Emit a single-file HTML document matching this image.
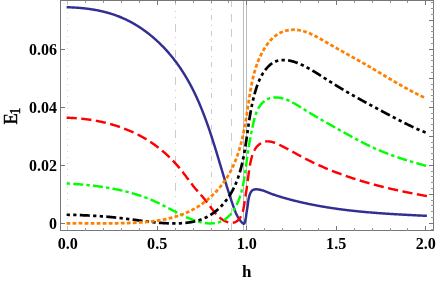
<!DOCTYPE html>
<html><head><meta charset="utf-8"><title>E1 vs h</title>
<style>
html,body{margin:0;padding:0;background:#fff;}
body{width:436px;height:281px;overflow:hidden;}
svg{display:block;}
text{font-family:"Liberation Serif",serif;fill:#000;}
.b{font-weight:bold;font-size:17px;}
</style></head><body>
<svg width="436" height="281" viewBox="0 0 436 281">
<rect width="436" height="281" fill="#fff"/>
<g fill="none" shape-rendering="crispEdges">
<line x1="67.5" y1="0.5" x2="67.5" y2="230.5" stroke="#d6d6d6" stroke-width="1" stroke-dasharray="1 5.05" stroke-dashoffset="0.95"/>
<line x1="175.5" y1="0.5" x2="175.5" y2="230.5" stroke="#cccccc" stroke-width="1" stroke-dasharray="8 5.5 1 5.6 1 5.4" stroke-dashoffset="3.1"/>
<line x1="211.5" y1="0.5" x2="211.5" y2="230.5" stroke="#cccccc" stroke-width="1" stroke-dasharray="5 5.2 1 4.5" stroke-dashoffset="1.3"/>
<line x1="231.5" y1="0.5" x2="231.5" y2="230.5" stroke="#cccccc" stroke-width="1" stroke-dasharray="7.6 7.3" stroke-dashoffset="1.1"/>
<line x1="243.5" y1="0.5" x2="243.5" y2="230.5" stroke="#bcbcbc" stroke-width="1"/>
<line x1="246.5" y1="0.5" x2="246.5" y2="230.5" stroke="#bcbcbc" stroke-width="1"/>
</g>
<g fill="none" stroke-linecap="butt" stroke-linejoin="round">
<path d="M66.63 7.24 L67.29 7.25 L67.95 7.27 L68.61 7.29 L69.27 7.31 L69.93 7.34 L70.59 7.36 L71.25 7.39 L71.91 7.42 L72.58 7.45 L73.24 7.49 L73.90 7.52 L74.57 7.56 L75.23 7.60 L75.90 7.64 L76.56 7.69 L77.23 7.73 L77.89 7.78 L78.56 7.83 L79.22 7.89 L79.89 7.94 L80.55 8.00 L81.22 8.06 L81.88 8.12 L82.55 8.19 L83.21 8.26 L83.88 8.33 L84.54 8.40 L85.21 8.47 L85.87 8.55 L86.54 8.63 L87.20 8.72 L87.87 8.80 L88.53 8.89 L89.20 8.98 L89.86 9.07 L90.52 9.17 L91.18 9.27 L91.85 9.37 L92.51 9.48 L93.17 9.58 L93.83 9.69 L94.49 9.81 L95.15 9.92 L95.81 10.04 L96.47 10.16 L97.13 10.29 L97.78 10.42 L98.44 10.55 L99.10 10.68 L99.75 10.82 L100.41 10.96 L101.06 11.10 L101.71 11.25 L102.37 11.40 L103.02 11.55 L103.67 11.71 L104.32 11.87 L104.96 12.03 L105.61 12.20 L106.26 12.37 L106.90 12.54 L107.55 12.72 L108.19 12.90 L108.83 13.08 L109.47 13.27 L110.11 13.46 L110.75 13.65 L111.39 13.85 L112.03 14.05 L112.66 14.25 L113.29 14.46 L113.93 14.67 L114.56 14.89 L115.19 15.10 L115.81 15.33 L116.44 15.55 L117.07 15.78 L117.69 16.02 L118.31 16.26 L118.93 16.50 L119.55 16.74 L120.17 16.99 L120.78 17.25 L121.40 17.50 L122.01 17.76 L122.62 18.03 L123.23 18.30 L123.84 18.57 L124.44 18.85 L125.05 19.13 L125.65 19.41 L126.25 19.70 L126.85 19.99 L127.45 20.28 L128.04 20.58 L128.64 20.88 L129.23 21.18 L129.82 21.49 L130.41 21.80 L131.00 22.12 L131.58 22.44 L132.17 22.76 L132.75 23.08 L133.33 23.41 L133.91 23.74 L134.49 24.08 L135.06 24.42 L135.63 24.76 L136.20 25.11 L136.77 25.45 L137.34 25.81 L137.91 26.16 L138.47 26.52 L139.03 26.88 L139.59 27.24 L140.15 27.61 L140.71 27.98 L141.26 28.35 L141.82 28.73 L142.37 29.11 L142.92 29.49 L143.47 29.88 L144.01 30.27 L144.55 30.66 L145.10 31.05 L145.63 31.45 L146.17 31.85 L146.71 32.25 L147.24 32.66 L147.77 33.06 L148.30 33.47 L148.83 33.89 L149.36 34.30 L149.88 34.72 L150.40 35.14 L150.92 35.57 L151.44 36.00 L151.96 36.43 L152.47 36.86 L152.98 37.29 L153.49 37.73 L154.00 38.17 L154.51 38.61 L155.01 39.05 L155.51 39.50 L156.01 39.95 L156.51 40.40 L157.00 40.86 L157.50 41.31 L157.99 41.77 L158.48 42.23 L158.96 42.70 L159.45 43.16 L159.93 43.63 L160.41 44.10 L160.89 44.57 L161.36 45.04 L161.84 45.52 L162.31 46.00 L162.78 46.48 L163.25 46.96 L163.71 47.45 L164.17 47.93 L164.63 48.42 L165.09 48.91 L165.55 49.40 L166.00 49.90 L166.45 50.40 L166.90 50.89 L167.35 51.39 L167.80 51.90 L168.24 52.40 L168.68 52.90 L169.12 53.41 L169.55 53.92 L169.99 54.43 L170.42 54.94 L170.85 55.46 L171.27 55.97 L171.70 56.49 L172.12 57.01 L172.54 57.53 L172.96 58.05 L173.37 58.58 L173.78 59.10 L174.19 59.63 L174.60 60.16 L175.01 60.68 L175.41 61.22 L175.81 61.75 L176.21 62.28 L176.60 62.82 L177.00 63.35 L177.39 63.89 L177.77 64.43 L178.16 64.97 L178.54 65.51 L178.93 66.06 L179.31 66.60 L179.68 67.15 L180.06 67.69 L180.43 68.24 L180.80 68.79 L181.17 69.34 L181.53 69.90 L181.90 70.45 L182.26 71.00 L182.62 71.56 L182.98 72.12 L183.33 72.68 L183.68 73.24 L184.04 73.80 L184.38 74.36 L184.73 74.92 L185.08 75.49 L185.42 76.05 L185.76 76.62 L186.10 77.19 L186.43 77.76 L186.77 78.33 L187.10 78.90 L187.43 79.47 L187.76 80.04 L188.09 80.62 L188.41 81.20 L188.74 81.77 L189.06 82.35 L189.38 82.93 L189.69 83.51 L190.01 84.09 L190.32 84.67 L190.63 85.26 L190.95 85.84 L191.25 86.43 L191.56 87.01 L191.86 87.60 L192.17 88.19 L192.47 88.78 L192.77 89.37 L193.07 89.96 L193.36 90.55 L193.66 91.15 L193.95 91.74 L194.24 92.34 L194.53 92.93 L194.82 93.53 L195.10 94.13 L195.39 94.73 L195.67 95.33 L195.95 95.93 L196.23 96.53 L196.51 97.13 L196.79 97.74 L197.06 98.34 L197.34 98.94 L197.61 99.55 L197.88 100.16 L198.15 100.76 L198.42 101.37 L198.68 101.98 L198.95 102.59 L199.21 103.20 L199.47 103.81 L199.74 104.43 L200.00 105.04 L200.25 105.65 L200.51 106.27 L200.77 106.88 L201.02 107.50 L201.27 108.12 L201.52 108.73 L201.77 109.35 L202.02 109.97 L202.27 110.59 L202.52 111.21 L202.76 111.83 L203.01 112.45 L203.25 113.07 L203.49 113.70 L203.73 114.32 L203.97 114.94 L204.21 115.57 L204.45 116.19 L204.68 116.82 L204.92 117.45 L205.15 118.07 L205.39 118.70 L205.62 119.33 L205.85 119.96 L206.08 120.59 L206.31 121.22 L206.54 121.85 L206.76 122.48 L206.99 123.11 L207.21 123.74 L207.44 124.37 L207.66 125.00 L207.88 125.64 L208.10 126.27 L208.33 126.91 L208.54 127.54 L208.76 128.18 L208.98 128.81 L209.20 129.45 L209.41 130.08 L209.63 130.72 L209.85 131.36 L210.06 131.99 L210.27 132.63 L210.48 133.27 L210.70 133.91 L210.91 134.55 L211.12 135.19 L211.33 135.83 L211.54 136.47 L211.74 137.11 L211.95 137.75 L212.16 138.39 L212.37 139.03 L212.57 139.67 L212.78 140.31 L212.98 140.95 L213.18 141.60 L213.39 142.24 L213.59 142.88 L213.79 143.52 L214.00 144.17 L214.20 144.81 L214.40 145.45 L214.60 146.10 L214.80 146.74 L215.00 147.39 L215.20 148.03 L215.40 148.68 L215.59 149.32 L215.79 149.97 L215.99 150.61 L216.19 151.26 L216.38 151.90 L216.58 152.55 L216.78 153.19 L216.97 153.84 L217.17 154.48 L217.36 155.13 L217.56 155.77 L217.75 156.42 L217.95 157.07 L218.14 157.71 L218.34 158.36 L218.53 159.00 L218.73 159.65 L218.92 160.30 L219.11 160.94 L219.31 161.59 L219.50 162.23 L219.69 162.88 L219.89 163.53 L220.08 164.17 L220.27 164.82 L220.47 165.46 L220.66 166.11 L220.85 166.75 L221.05 167.40 L221.24 168.05 L221.43 168.69 L221.62 169.34 L221.82 169.98 L222.01 170.63 L222.20 171.27 L222.40 171.92 L222.59 172.56 L222.78 173.20 L222.98 173.85 L223.17 174.49 L223.37 175.14 L223.56 175.78 L223.75 176.42 L223.95 177.07 L224.14 177.71 L224.34 178.35 L224.53 179.00 L224.73 179.64 L224.92 180.28 L225.12 180.92 L225.32 181.56 L225.51 182.20 L225.71 182.85 L225.91 183.49 L226.10 184.13 L226.30 184.77 L226.50 185.41 L226.70 186.05 L226.90 186.68 L227.10 187.32 L227.30 187.96 L227.50 188.60 L227.70 189.24 L227.90 189.87 L228.10 190.51 L228.31 191.15 L228.51 191.78 L228.71 192.42 L228.92 193.05 L229.12 193.69 L229.33 194.32 L229.53 194.96 L229.74 195.59 L229.95 196.22 L230.15 196.86 L230.36 197.49 L230.57 198.12 L230.78 198.75 L230.99 199.38 L231.20 200.01 L231.41 200.64 L231.62 201.27 L231.84 201.90 L232.05 202.52 L232.27 203.15 L232.48 203.78 L232.70 204.40 L232.92 205.03 L233.13 205.65 L233.35 206.28 L233.57 206.90 L233.79 207.52 L234.01 208.15 L234.24 208.77 L234.46 209.39 L234.69 210.00 L234.93 210.62 L235.16 211.23 L235.41 211.84 L235.65 212.44 L235.91 213.05 L236.17 213.64 L236.44 214.24 L236.71 214.82 L237.00 215.41 L237.30 215.98 L237.60 216.55 L237.92 217.12 L238.25 217.68 L238.58 218.23 L238.94 218.77 L239.30 219.30 L239.68 219.83 L240.08 220.35 L240.48 220.85 L240.91 221.35 L241.35 221.84 L241.81 222.32 L242.29 222.79 L242.78 223.24 L243.27 223.60 L243.75 223.76 L244.18 223.61 L244.56 223.10 L244.87 222.30 L245.14 221.38 L245.36 220.46 L245.55 219.62 L245.71 218.85 L245.84 218.13 L245.95 217.47 L246.03 216.84 L246.11 216.24 L246.18 215.65 L246.24 215.08 L246.31 214.51 L246.38 213.93 L246.46 213.33 L246.55 212.71 L246.65 212.08 L246.75 211.44 L246.86 210.78 L246.97 210.11 L247.08 209.44 L247.20 208.76 L247.31 208.08 L247.42 207.39 L247.52 206.71 L247.62 206.03 L247.72 205.36 L247.81 204.69 L247.89 204.02 L247.97 203.36 L248.05 202.70 L248.14 202.04 L248.22 201.39 L248.32 200.74 L248.41 200.09 L248.52 199.44 L248.64 198.79 L248.76 198.14 L248.90 197.49 L249.06 196.84 L249.23 196.19 L249.43 195.54 L249.64 194.89 L249.87 194.24 L250.13 193.59 L250.42 192.96 L250.74 192.35 L251.09 191.77 L251.48 191.24 L251.91 190.76 L252.39 190.34 L252.91 189.99 L253.49 189.72 L254.10 189.53 L254.76 189.41 L255.44 189.34 L256.13 189.32 L256.83 189.34 L257.52 189.39 L258.20 189.46 L258.87 189.55 L259.54 189.67 L260.20 189.80 L260.85 189.95 L261.50 190.12 L262.14 190.30 L262.77 190.50 L263.41 190.71 L264.04 190.92 L264.66 191.15 L265.29 191.39 L265.91 191.63 L266.53 191.87 L267.15 192.12 L267.77 192.37 L268.39 192.62 L269.01 192.86 L269.63 193.11 L270.25 193.35 L270.87 193.58 L271.50 193.82 L272.13 194.05 L272.75 194.28 L273.38 194.50 L274.01 194.72 L274.64 194.94 L275.27 195.16 L275.91 195.37 L276.54 195.58 L277.18 195.79 L277.81 195.99 L278.45 196.20 L279.09 196.40 L279.72 196.60 L280.36 196.79 L281.00 196.99 L281.64 197.18 L282.28 197.37 L282.92 197.56 L283.57 197.75 L284.21 197.93 L284.85 198.12 L285.49 198.30 L286.14 198.48 L286.78 198.66 L287.43 198.84 L288.07 199.01 L288.71 199.19 L289.36 199.36 L290.00 199.53 L290.65 199.70 L291.30 199.87 L291.94 200.04 L292.59 200.21 L293.24 200.37 L293.88 200.54 L294.53 200.70 L295.18 200.86 L295.82 201.02 L296.47 201.18 L297.12 201.34 L297.77 201.50 L298.42 201.65 L299.07 201.81 L299.72 201.96 L300.37 202.11 L301.02 202.26 L301.67 202.41 L302.32 202.56 L302.97 202.71 L303.62 202.85 L304.27 203.00 L304.92 203.14 L305.57 203.28 L306.22 203.42 L306.88 203.56 L307.53 203.70 L308.18 203.84 L308.83 203.97 L309.49 204.11 L310.14 204.24 L310.79 204.38 L311.45 204.51 L312.10 204.64 L312.75 204.77 L313.41 204.90 L314.06 205.02 L314.72 205.15 L315.37 205.27 L316.03 205.40 L316.68 205.52 L317.34 205.64 L318.00 205.76 L318.65 205.88 L319.31 206.00 L319.96 206.12 L320.62 206.23 L321.28 206.35 L321.93 206.46 L322.59 206.58 L323.25 206.69 L323.91 206.80 L324.56 206.91 L325.22 207.02 L325.88 207.13 L326.54 207.24 L327.20 207.34 L327.86 207.45 L328.51 207.55 L329.17 207.66 L329.83 207.76 L330.49 207.86 L331.15 207.96 L331.81 208.06 L332.47 208.16 L333.13 208.26 L333.79 208.35 L334.45 208.45 L335.11 208.55 L335.77 208.64 L336.43 208.73 L337.09 208.83 L337.76 208.92 L338.42 209.01 L339.08 209.10 L339.74 209.19 L340.40 209.27 L341.06 209.36 L341.73 209.45 L342.39 209.53 L343.05 209.62 L343.71 209.70 L344.37 209.79 L345.04 209.87 L345.70 209.95 L346.36 210.03 L347.03 210.11 L347.69 210.19 L348.35 210.27 L349.02 210.35 L349.68 210.42 L350.34 210.50 L351.01 210.57 L351.67 210.65 L352.33 210.72 L353.00 210.79 L353.66 210.87 L354.33 210.94 L354.99 211.01 L355.66 211.08 L356.32 211.15 L356.98 211.22 L357.65 211.29 L358.31 211.35 L358.98 211.42 L359.64 211.49 L360.31 211.55 L360.97 211.62 L361.64 211.68 L362.31 211.75 L362.97 211.81 L363.64 211.87 L364.30 211.93 L364.97 211.99 L365.63 212.05 L366.30 212.11 L366.96 212.17 L367.63 212.23 L368.30 212.29 L368.96 212.35 L369.63 212.40 L370.29 212.46 L370.96 212.52 L371.63 212.57 L372.29 212.63 L372.96 212.68 L373.63 212.73 L374.29 212.79 L374.96 212.84 L375.63 212.89 L376.29 212.94 L376.96 212.99 L377.63 213.05 L378.29 213.10 L378.96 213.14 L379.63 213.19 L380.29 213.24 L380.96 213.29 L381.63 213.34 L382.29 213.39 L382.96 213.43 L383.63 213.48 L384.29 213.52 L384.96 213.57 L385.63 213.62 L386.29 213.66 L386.96 213.70 L387.63 213.75 L388.30 213.79 L388.96 213.83 L389.63 213.88 L390.30 213.92 L390.96 213.96 L391.63 214.00 L392.30 214.04 L392.96 214.09 L393.63 214.13 L394.30 214.17 L394.97 214.21 L395.63 214.25 L396.30 214.28 L396.97 214.32 L397.63 214.36 L398.30 214.40 L398.97 214.44 L399.63 214.48 L400.30 214.51 L400.97 214.55 L401.63 214.59 L402.30 214.62 L402.97 214.66 L403.63 214.70 L404.30 214.73 L404.97 214.77 L405.63 214.80 L406.30 214.84 L406.97 214.87 L407.63 214.91 L408.30 214.94 L408.96 214.98 L409.63 215.01 L410.30 215.05 L410.96 215.08 L411.63 215.11 L412.30 215.15 L412.96 215.18 L413.63 215.21 L414.29 215.25 L414.96 215.28 L415.62 215.31 L416.29 215.35 L416.96 215.38 L417.62 215.41 L418.29 215.44 L418.95 215.48 L419.62 215.51 L420.28 215.54 L420.95 215.57 L421.61 215.60 L422.28 215.63 L422.94 215.67 L423.61 215.70 L424.27 215.73 L424.93 215.76 L425.60 215.79 L426.26 215.82 L426.93 215.86" stroke="#322f92" stroke-width="2.45"/>
<path d="M66.60 117.74 L67.27 117.76 L67.93 117.78 L68.60 117.80 L69.26 117.82 L69.93 117.85 L70.59 117.88 L71.26 117.91 L71.92 117.94 L72.59 117.98 L73.26 118.02 L73.92 118.06 L74.59 118.10 L75.25 118.15 L75.92 118.19 L76.58 118.24 L77.25 118.29 L77.92 118.35 L78.58 118.40 L79.25 118.46 L79.91 118.53 L80.58 118.59 L81.24 118.65 L81.91 118.72 L82.58 118.79 L83.24 118.87 L83.91 118.94 L84.57 119.02 L85.23 119.10 L85.90 119.18 L86.56 119.27 L87.23 119.36 L87.89 119.45 L88.55 119.54 L89.22 119.63 L89.88 119.73 L90.54 119.83 L91.20 119.93 L91.87 120.04 L92.53 120.14 L93.19 120.25 L93.85 120.37 L94.51 120.48 L95.17 120.60 L95.83 120.72 L96.49 120.84 L97.15 120.96 L97.80 121.09 L98.46 121.22 L99.12 121.35 L99.77 121.49 L100.43 121.62 L101.08 121.76 L101.74 121.91 L102.39 122.05 L103.05 122.20 L103.70 122.35 L104.35 122.50 L105.00 122.66 L105.65 122.81 L106.30 122.97 L106.95 123.14 L107.60 123.30 L108.25 123.47 L108.90 123.64 L109.54 123.82 L110.19 123.99 L110.83 124.17 L111.48 124.35 L112.12 124.54 L112.76 124.73 L113.40 124.91 L114.04 125.11 L114.68 125.30 L115.32 125.50 L115.96 125.70 L116.60 125.90 L117.23 126.11 L117.87 126.32 L118.50 126.53 L119.13 126.74 L119.76 126.96 L120.40 127.18 L121.02 127.40 L121.65 127.63 L122.28 127.86 L122.91 128.09 L123.53 128.32 L124.16 128.56 L124.78 128.80 L125.40 129.04 L126.02 129.28 L126.64 129.53 L127.26 129.78 L127.88 130.03 L128.49 130.29 L129.11 130.55 L129.72 130.81 L130.33 131.07 L130.94 131.34 L131.55 131.61 L132.16 131.89 L132.77 132.16 L133.37 132.44 L133.97 132.72 L134.58 133.01 L135.18 133.30 L135.78 133.59 L136.37 133.88 L136.97 134.18 L137.57 134.48 L138.16 134.78 L138.75 135.08 L139.34 135.39 L139.93 135.70 L140.52 136.02 L141.10 136.33 L141.69 136.66 L142.27 136.98 L142.85 137.30 L143.43 137.63 L144.01 137.97 L144.59 138.30 L145.16 138.64 L145.73 138.98 L146.30 139.33 L146.87 139.67 L147.44 140.02 L148.01 140.38 L148.57 140.73 L149.13 141.09 L149.69 141.46 L150.25 141.82 L150.81 142.19 L151.36 142.56 L151.92 142.94 L152.47 143.31 L153.02 143.69 L153.56 144.08 L154.11 144.46 L154.65 144.85 L155.20 145.24 L155.74 145.64 L156.27 146.03 L156.81 146.43 L157.34 146.84 L157.88 147.24 L158.41 147.65 L158.93 148.06 L159.46 148.47 L159.98 148.89 L160.51 149.31 L161.03 149.73 L161.54 150.16 L162.06 150.58 L162.57 151.01 L163.09 151.45 L163.60 151.88 L164.10 152.32 L164.61 152.76 L165.11 153.20 L165.61 153.65 L166.11 154.10 L166.61 154.55 L167.10 155.00 L167.60 155.45 L168.09 155.91 L168.57 156.37 L169.06 156.84 L169.54 157.30 L170.02 157.77 L170.50 158.24 L170.98 158.71 L171.45 159.19 L171.93 159.66 L172.40 160.14 L172.86 160.63 L173.33 161.11 L173.79 161.60 L174.25 162.09 L174.71 162.58 L175.16 163.07 L175.62 163.57 L176.07 164.07 L176.52 164.57 L176.96 165.07 L177.41 165.57 L177.85 166.08 L178.29 166.59 L178.72 167.10 L179.16 167.62 L179.59 168.13 L180.01 168.65 L180.44 169.17 L180.86 169.69 L181.29 170.22 L181.70 170.74 L182.12 171.27 L182.53 171.80 L182.94 172.33 L183.35 172.87 L183.76 173.40 L184.17 173.94 L184.57 174.47 L184.98 175.01 L185.38 175.55 L185.78 176.08 L186.18 176.62 L186.58 177.16 L186.98 177.70 L187.37 178.24 L187.77 178.77 L188.17 179.31 L188.57 179.85 L188.96 180.38 L189.36 180.91 L189.76 181.45 L190.16 181.98 L190.56 182.51 L190.96 183.03 L191.36 183.56 L191.76 184.08 L192.17 184.60 L192.57 185.12 L192.98 185.64 L193.39 186.15 L193.80 186.66 L194.21 187.17 L194.63 187.67 L195.04 188.17 L195.46 188.67 L195.88 189.17 L196.30 189.66 L196.73 190.15 L197.15 190.64 L197.58 191.13 L198.01 191.62 L198.43 192.11 L198.86 192.60 L199.29 193.09 L199.72 193.58 L200.15 194.07 L200.58 194.56 L201.02 195.05 L201.45 195.54 L201.88 196.04 L202.31 196.54 L202.74 197.04 L203.17 197.54 L203.60 198.05 L204.03 198.56 L204.46 199.07 L204.88 199.59 L205.31 200.11 L205.73 200.64 L206.16 201.17 L206.58 201.71 L207.00 202.25 L207.42 202.80 L207.83 203.35 L208.25 203.90 L208.67 204.46 L209.09 205.02 L209.50 205.59 L209.92 206.15 L210.34 206.71 L210.76 207.28 L211.18 207.84 L211.60 208.40 L212.02 208.96 L212.45 209.52 L212.88 210.08 L213.31 210.63 L213.74 211.17 L214.18 211.72 L214.62 212.25 L215.06 212.78 L215.51 213.31 L215.97 213.82 L216.42 214.33 L216.89 214.83 L217.36 215.32 L217.83 215.80 L218.31 216.27 L218.80 216.73 L219.29 217.18 L219.79 217.61 L220.30 218.04 L220.81 218.45 L221.33 218.84 L221.86 219.22 L222.40 219.59 L222.95 219.94 L223.50 220.27 L224.07 220.59 L224.64 220.88 L225.22 221.16 L225.82 221.43 L226.42 221.67 L227.03 221.89 L227.66 222.09 L228.29 222.27 L228.93 222.42 L229.58 222.54 L230.22 222.64 L230.87 222.70 L231.52 222.73" stroke="#ff0000" stroke-width="2.45" stroke-dasharray="10.2 4.5"/>
<path d="M231.52 222.73 L232.16 222.73 L232.79 222.68 L233.42 222.60 L234.04 222.47 L234.64 222.30 L235.24 222.07 L235.81 221.81 L236.37 221.49 L236.90 221.13 L237.42 220.72 L237.92 220.29 L238.39 219.82 L238.85 219.33 L239.28 218.81 L239.68 218.28 L240.06 217.73 L240.42 217.17 L240.75 216.60 L241.07 216.01 L241.36 215.41 L241.63 214.80 L241.89 214.18 L242.13 213.56 L242.35 212.92 L242.55 212.27 L242.75 211.62 L242.93 210.96 L243.09 210.30 L243.25 209.63 L243.40 208.96 L243.53 208.28 L243.66 207.60 L243.79 206.91 L243.90 206.23 L244.01 205.54 L244.12 204.86 L244.23 204.17 L244.33 203.49 L244.43 202.81 L244.54 202.13 L244.64 201.45 L244.74 200.78 L244.85 200.11 L244.95 199.44 L245.06 198.78 L245.16 198.11 L245.27 197.45 L245.38 196.79 L245.48 196.13 L245.59 195.48 L245.69 194.82 L245.80 194.17 L245.90 193.52 L246.01 192.87 L246.11 192.22 L246.22 191.57 L246.32 190.92 L246.42 190.27 L246.52 189.62 L246.62 188.97 L246.72 188.33 L246.81 187.68 L246.91 187.03 L247.00 186.38 L247.09 185.73 L247.18 185.08 L247.27 184.43 L247.36 183.77 L247.45 183.12 L247.53 182.47 L247.61 181.81 L247.70 181.15 L247.78 180.50 L247.86 179.84 L247.94 179.18 L248.02 178.52 L248.11 177.86 L248.19 177.21 L248.27 176.55 L248.35 175.88 L248.44 175.22 L248.52 174.56 L248.61 173.90 L248.70 173.24 L248.79 172.58 L248.88 171.91 L248.97 171.25 L249.07 170.59 L249.16 169.92 L249.26 169.26 L249.37 168.60 L249.47 167.93 L249.58 167.27 L249.70 166.60 L249.81 165.94 L249.93 165.28 L250.05 164.61 L250.18 163.95 L250.31 163.29 L250.45 162.62 L250.59 161.96 L250.74 161.30 L250.89 160.64 L251.05 159.97 L251.21 159.31 L251.38 158.65 L251.55 157.99 L251.73 157.33 L251.92 156.68 L252.11 156.02 L252.32 155.38 L252.53 154.73 L252.76 154.09 L252.99 153.46 L253.24 152.83 L253.50 152.21 L253.78 151.60 L254.06 150.99 L254.37 150.40 L254.69 149.82" stroke="#ff0000" stroke-width="2.45" stroke-dasharray="10.8169 4.7722" stroke-dashoffset="14.2935"/>
<path d="M426.89 196.07 L426.24 195.95 L425.59 195.84 L424.94 195.72 L424.28 195.61 L423.63 195.49 L422.98 195.37 L422.32 195.25 L421.67 195.14 L421.02 195.02 L420.36 194.90 L419.71 194.78 L419.06 194.66 L418.40 194.53 L417.75 194.41 L417.10 194.29 L416.44 194.17 L415.79 194.04 L415.13 193.92 L414.48 193.79 L413.83 193.67 L413.17 193.54 L412.52 193.41 L411.86 193.28 L411.21 193.16 L410.56 193.03 L409.90 192.90 L409.25 192.77 L408.59 192.64 L407.94 192.50 L407.28 192.37 L406.63 192.24 L405.98 192.10 L405.32 191.97 L404.67 191.83 L404.01 191.70 L403.36 191.56 L402.71 191.42 L402.05 191.28 L401.40 191.15 L400.75 191.01 L400.09 190.87 L399.44 190.72 L398.79 190.58 L398.13 190.44 L397.48 190.30 L396.83 190.15 L396.17 190.01 L395.52 189.86 L394.87 189.71 L394.21 189.57 L393.56 189.42 L392.91 189.27 L392.26 189.12 L391.60 188.97 L390.95 188.82 L390.30 188.67 L389.65 188.51 L389.00 188.36 L388.34 188.20 L387.69 188.05 L387.04 187.89 L386.39 187.74 L385.74 187.58 L385.09 187.42 L384.44 187.26 L383.79 187.10 L383.14 186.94 L382.49 186.78 L381.84 186.61 L381.19 186.45 L380.54 186.28 L379.89 186.12 L379.24 185.95 L378.59 185.78 L377.94 185.61 L377.29 185.45 L376.65 185.28 L376.00 185.10 L375.35 184.93 L374.70 184.76 L374.06 184.58 L373.41 184.41 L372.76 184.23 L372.12 184.06 L371.47 183.88 L370.83 183.70 L370.18 183.52 L369.53 183.34 L368.89 183.16 L368.24 182.98 L367.60 182.79 L366.96 182.61 L366.31 182.42 L365.67 182.24 L365.03 182.05 L364.38 181.86 L363.74 181.67 L363.10 181.48 L362.46 181.29 L361.82 181.10 L361.17 180.90 L360.53 180.71 L359.89 180.51 L359.25 180.32 L358.61 180.12 L357.97 179.92 L357.34 179.72 L356.70 179.52 L356.06 179.32 L355.42 179.12 L354.78 178.91 L354.15 178.71 L353.51 178.50 L352.87 178.29 L352.24 178.09 L351.60 177.88 L350.97 177.67 L350.33 177.45 L349.70 177.24 L349.07 177.03 L348.43 176.81 L347.80 176.60 L347.17 176.38 L346.54 176.16 L345.90 175.94 L345.27 175.72 L344.64 175.50 L344.01 175.28 L343.38 175.05 L342.75 174.83 L342.13 174.60 L341.50 174.37 L340.87 174.15 L340.24 173.92 L339.62 173.69 L338.99 173.45 L338.37 173.22 L337.74 172.99 L337.12 172.75 L336.49 172.51 L335.87 172.27 L335.25 172.04 L334.62 171.80 L334.00 171.55 L333.38 171.31 L332.76 171.07 L332.14 170.82 L331.52 170.57 L330.90 170.33 L330.28 170.08 L329.67 169.83 L329.05 169.57 L328.43 169.32 L327.82 169.07 L327.20 168.81 L326.58 168.56 L325.97 168.30 L325.36 168.04 L324.74 167.78 L324.13 167.52 L323.52 167.25 L322.91 166.99 L322.30 166.72 L321.69 166.45 L321.08 166.19 L320.47 165.92 L319.86 165.65 L319.26 165.37 L318.65 165.10 L318.04 164.82 L317.44 164.55 L316.83 164.27 L316.23 163.99 L315.63 163.71 L315.02 163.43 L314.42 163.14 L313.82 162.86 L313.22 162.57 L312.62 162.29 L312.02 162.00 L311.42 161.71 L310.83 161.42 L310.23 161.12 L309.63 160.83 L309.04 160.53 L308.44 160.24 L307.85 159.94 L307.26 159.64 L306.66 159.34 L306.07 159.03 L305.48 158.73 L304.89 158.42 L304.30 158.11 L303.71 157.81 L303.13 157.50 L302.54 157.18 L301.95 156.87 L301.37 156.56 L300.78 156.24 L300.20 155.92 L299.61 155.61 L299.03 155.29 L298.45 154.97 L297.86 154.65 L297.28 154.33 L296.69 154.01 L296.11 153.68 L295.53 153.36 L294.94 153.04 L294.36 152.72 L293.77 152.39 L293.19 152.07 L292.60 151.75 L292.02 151.43 L291.43 151.10 L290.84 150.78 L290.25 150.46 L289.66 150.14 L289.07 149.82 L288.48 149.50 L287.89 149.18 L287.29 148.86 L286.69 148.54 L286.10 148.23 L285.50 147.91 L284.90 147.60 L284.29 147.29 L283.69 146.97 L283.08 146.67 L282.48 146.36 L281.87 146.05 L281.25 145.75 L280.64 145.44 L280.02 145.14 L279.40 144.84 L278.78 144.55 L278.16 144.26 L277.53 143.97 L276.90 143.69 L276.28 143.43 L275.65 143.17 L275.01 142.92 L274.38 142.68 L273.75 142.46 L273.11 142.26 L272.48 142.07 L271.84 141.90 L271.20 141.76 L270.57 141.63 L269.93 141.52 L269.29 141.44 L268.66 141.39 L268.02 141.36 L267.39 141.36 L266.75 141.39 L266.12 141.45 L265.48 141.55 L264.85 141.67 L264.22 141.84 L263.59 142.03 L262.97 142.27 L262.35 142.53 L261.74 142.83 L261.14 143.16 L260.55 143.51 L259.98 143.89 L259.42 144.29 L258.89 144.71 L258.37 145.15 L257.88 145.61 L257.41 146.08 L256.97 146.57 L256.54 147.08 L256.13 147.60 L255.74 148.14 L255.37 148.68 L255.02 149.24 L254.69 149.82" stroke="#ff0000" stroke-width="2.45" stroke-dasharray="10.2 4.5"/>
<path d="M66.63 183.46 L67.28 183.50 L67.94 183.54 L68.60 183.58 L69.26 183.62 L69.92 183.66 L70.58 183.70 L71.24 183.74 L71.90 183.78 L72.57 183.83 L73.23 183.87 L73.89 183.92 L74.55 183.96 L75.22 184.01 L75.88 184.06 L76.54 184.11 L77.20 184.16 L77.87 184.21 L78.53 184.26 L79.20 184.32 L79.86 184.37 L80.53 184.43 L81.19 184.48 L81.85 184.54 L82.52 184.60 L83.18 184.66 L83.85 184.72 L84.52 184.78 L85.18 184.84 L85.85 184.91 L86.51 184.97 L87.18 185.04 L87.84 185.10 L88.51 185.17 L89.18 185.24 L89.84 185.31 L90.51 185.39 L91.17 185.46 L91.84 185.53 L92.50 185.61 L93.17 185.69 L93.84 185.77 L94.50 185.85 L95.17 185.93 L95.83 186.01 L96.50 186.10 L97.16 186.18 L97.83 186.27 L98.49 186.36 L99.16 186.45 L99.82 186.54 L100.49 186.63 L101.15 186.73 L101.82 186.82 L102.48 186.92 L103.14 187.02 L103.81 187.12 L104.47 187.22 L105.13 187.33 L105.80 187.43 L106.46 187.54 L107.12 187.65 L107.78 187.76 L108.45 187.87 L109.11 187.98 L109.77 188.10 L110.43 188.21 L111.09 188.33 L111.75 188.45 L112.41 188.57 L113.07 188.70 L113.73 188.82 L114.39 188.95 L115.04 189.08 L115.70 189.21 L116.36 189.35 L117.01 189.48 L117.67 189.62 L118.33 189.75 L118.98 189.90 L119.64 190.04 L120.29 190.18 L120.94 190.33 L121.60 190.48 L122.25 190.63 L122.90 190.78 L123.55 190.93 L124.20 191.09 L124.85 191.25 L125.50 191.41 L126.15 191.57 L126.80 191.73 L127.45 191.90 L128.09 192.07 L128.74 192.24 L129.38 192.41 L130.03 192.59 L130.67 192.76 L131.32 192.94 L131.96 193.13 L132.60 193.31 L133.24 193.50 L133.88 193.68 L134.52 193.87 L135.16 194.07 L135.80 194.26 L136.44 194.46 L137.07 194.66 L137.71 194.86 L138.34 195.07 L138.98 195.27 L139.61 195.48 L140.24 195.69 L140.87 195.91 L141.50 196.12 L142.13 196.34 L142.76 196.56 L143.39 196.79 L144.01 197.01 L144.64 197.24 L145.26 197.47 L145.89 197.71 L146.51 197.94 L147.13 198.18 L147.75 198.42 L148.37 198.67 L148.99 198.91 L149.61 199.16 L150.22 199.41 L150.84 199.67 L151.45 199.93 L152.06 200.19 L152.68 200.45 L153.29 200.71 L153.90 200.98 L154.50 201.25 L155.11 201.53 L155.72 201.80 L156.32 202.08 L156.93 202.36 L157.53 202.65 L158.13 202.93 L158.73 203.22 L159.33 203.51 L159.93 203.80 L160.53 204.10 L161.13 204.39 L161.72 204.69 L162.32 204.99 L162.91 205.29 L163.51 205.59 L164.10 205.90 L164.70 206.20 L165.29 206.51 L165.89 206.81 L166.48 207.12 L167.07 207.43 L167.66 207.74 L168.26 208.05 L168.85 208.36 L169.44 208.67 L170.03 208.98 L170.63 209.29 L171.22 209.60 L171.81 209.91 L172.40 210.22 L173.00 210.53 L173.59 210.84 L174.18 211.15 L174.78 211.45 L175.37 211.76 L175.97 212.07 L176.56 212.37 L177.16 212.68 L177.76 212.98 L178.35 213.28 L178.95 213.59 L179.55 213.88 L180.15 214.18 L180.75 214.48 L181.35 214.77 L181.95 215.06 L182.56 215.35 L183.16 215.64 L183.77 215.93 L184.37 216.21 L184.98 216.49 L185.59 216.77 L186.20 217.05 L186.81 217.32 L187.43 217.59 L188.04 217.86 L188.66 218.12 L189.28 218.38 L189.90 218.64 L190.52 218.90 L191.14 219.15 L191.76 219.39 L192.39 219.63 L193.02 219.87 L193.65 220.10 L194.28 220.33 L194.91 220.55 L195.54 220.76 L196.18 220.97 L196.81 221.18 L197.45 221.37 L198.09 221.56 L198.73 221.74 L199.38 221.91 L200.02 222.08 L200.67 222.24 L201.32 222.39 L201.97 222.53 L202.62 222.66 L203.27 222.78 L203.93 222.89 L204.59 222.99 L205.24 223.09 L205.91 223.17 L206.57 223.24 L207.23 223.30 L207.90 223.35 L208.56 223.38 L209.23 223.41 L209.90 223.42 L210.57 223.42 L211.25 223.41 L211.92 223.38 L212.60 223.34 L213.27 223.29 L213.95 223.22 L214.62 223.14 L215.29 223.04 L215.96 222.93 L216.63 222.80 L217.29 222.66 L217.94 222.50 L218.59 222.32 L219.23 222.13 L219.87 221.92 L220.49 221.69 L221.11 221.44 L221.72 221.17 L222.32 220.89 L222.91 220.58 L223.49 220.26 L224.06 219.92 L224.62 219.57 L225.17 219.20 L225.70 218.81 L226.23 218.41 L226.75 218.00 L227.27 217.57 L227.77 217.13 L228.26 216.68 L228.74 216.21 L229.21 215.73 L229.67 215.25 L230.13 214.75 L230.57 214.24 L231.01 213.73 L231.43 213.21 L231.85 212.67 L232.26 212.14 L232.65 211.59 L233.04 211.04 L233.42 210.48 L233.79 209.92 L234.15 209.35 L234.50 208.78 L234.85 208.21 L235.18 207.63 L235.51 207.05 L235.83 206.46 L236.14 205.87 L236.44 205.28 L236.74 204.68 L237.03 204.08 L237.31 203.48 L237.58 202.87 L237.85 202.26 L238.10 201.65 L238.36 201.04 L238.60 200.42 L238.84 199.80 L239.08 199.18 L239.31 198.55 L239.53 197.92 L239.74 197.29 L239.96 196.66 L240.16 196.03 L240.36 195.39 L240.56 194.76 L240.75 194.12 L240.94 193.48 L241.12 192.84 L241.30 192.19 L241.47 191.55 L241.64 190.90 L241.81 190.26 L241.97 189.61 L242.13 188.96 L242.29 188.31 L242.44 187.66 L242.59 187.01 L242.73 186.36 L242.88 185.70 L243.02 185.05 L243.15 184.40 L243.29 183.74 L243.42 183.08 L243.55 182.43 L243.67 181.77 L243.79 181.11 L243.91 180.45 L244.03 179.79 L244.15 179.13 L244.26 178.47 L244.37 177.81 L244.48 177.15 L244.59 176.49 L244.69 175.83 L244.80 175.16 L244.90 174.50 L245.00 173.84 L245.10 173.17 L245.20 172.51 L245.29 171.85 L245.39 171.18 L245.48 170.52 L245.57 169.85 L245.66 169.19 L245.75 168.52 L245.84 167.86 L245.93 167.19 L246.02 166.53 L246.10 165.86 L246.19 165.20 L246.28 164.53 L246.36 163.87 L246.45 163.20 L246.53 162.54 L246.62 161.88 L246.71 161.21 L246.79 160.55 L246.88 159.88 L246.96 159.22 L247.05 158.56 L247.13 157.90 L247.22 157.23 L247.31 156.57 L247.40 155.91 L247.49 155.25 L247.58 154.59 L247.67 153.93 L247.76 153.27 L247.85 152.61 L247.95 151.96 L248.04 151.30 L248.14 150.64 L248.24 149.99 L248.33 149.33 L248.44 148.68 L248.54 148.02 L248.64 147.37 L248.75 146.72 L248.85 146.07 L248.96 145.42 L249.07 144.76 L249.18 144.11 L249.30 143.46 L249.41 142.81 L249.52 142.16 L249.64 141.51 L249.76 140.86 L249.88 140.21 L250.00 139.56 L250.12 138.91 L250.24 138.26 L250.37 137.61 L250.49 136.96 L250.62 136.31 L250.75 135.66 L250.87 135.01 L251.01 134.35 L251.14 133.70 L251.27 133.05 L251.40 132.39 L251.54 131.74 L251.67 131.08 L251.81 130.43 L251.95 129.77 L252.09 129.11 L252.23 128.46 L252.37 127.80 L252.51 127.14 L252.65 126.47 L252.80 125.81 L252.94 125.15 L253.09 124.48 L253.24 123.82 L253.39 123.15 L253.54 122.48 L253.69 121.82 L253.85 121.15 L254.01 120.48 L254.17 119.82 L254.34 119.16 L254.52 118.50 L254.70 117.84 L254.88 117.18 L255.07 116.53 L255.27 115.88 L255.47 115.24 L255.69 114.59 L255.91 113.96 L256.13 113.32 L256.37 112.70 L256.62 112.07 L256.87 111.46 L257.14 110.85 L257.41 110.24 L257.70 109.65 L258.00 109.06 L258.31 108.48 L258.63 107.90 L258.96 107.34 L259.31 106.78 L259.67 106.23 L260.05 105.69 L260.44 105.16 L260.84 104.64 L261.26 104.14 L261.69 103.64 L262.14 103.16 L262.60 102.69 L263.07 102.23 L263.56 101.79 L264.06 101.37 L264.57 100.97 L265.10 100.58 L265.64 100.21 L266.19 99.86 L266.76 99.54 L267.34 99.23 L267.93 98.95 L268.53 98.69 L269.14 98.45 L269.77 98.24 L270.40 98.06 L271.05 97.91 L271.71 97.77 L272.37 97.67 L273.04 97.59 L273.72 97.53 L274.40 97.49 L275.07 97.47 L275.75 97.47 L276.43 97.48 L277.10 97.52 L277.77 97.57 L278.43 97.64 L279.09 97.72 L279.74 97.81 L280.39 97.93 L281.04 98.05 L281.69 98.19 L282.33 98.34 L282.96 98.51 L283.59 98.68 L284.22 98.87 L284.85 99.08 L285.47 99.29 L286.09 99.51 L286.71 99.74 L287.33 99.99 L287.94 100.24 L288.55 100.50 L289.15 100.77 L289.76 101.05 L290.36 101.34 L290.96 101.64 L291.56 101.94 L292.15 102.25 L292.75 102.56 L293.34 102.89 L293.93 103.21 L294.52 103.54 L295.10 103.88 L295.69 104.22 L296.27 104.57 L296.86 104.92 L297.44 105.27 L298.02 105.62 L298.60 105.98 L299.18 106.34 L299.76 106.70 L300.33 107.06 L300.91 107.42 L301.49 107.78 L302.06 108.14 L302.64 108.50 L303.21 108.86 L303.79 109.22 L304.36 109.58 L304.94 109.94 L305.52 110.29 L306.09 110.65 L306.67 111.00 L307.24 111.35 L307.82 111.70 L308.39 112.05 L308.97 112.40 L309.54 112.75 L310.12 113.10 L310.69 113.44 L311.27 113.79 L311.84 114.13 L312.42 114.47 L312.99 114.82 L313.57 115.16 L314.14 115.50 L314.72 115.84 L315.29 116.18 L315.87 116.51 L316.44 116.85 L317.02 117.19 L317.59 117.52 L318.17 117.86 L318.74 118.19 L319.32 118.53 L319.89 118.86 L320.47 119.19 L321.04 119.52 L321.62 119.86 L322.20 120.19 L322.77 120.52 L323.35 120.85 L323.92 121.18 L324.50 121.50 L325.08 121.83 L325.65 122.16 L326.23 122.49 L326.81 122.82 L327.38 123.14 L327.96 123.47 L328.54 123.79 L329.11 124.12 L329.69 124.45 L330.27 124.77 L330.85 125.10 L331.42 125.42 L332.00 125.75 L332.58 126.07 L333.16 126.39 L333.74 126.72 L334.32 127.04 L334.89 127.37 L335.47 127.69 L336.05 128.02 L336.63 128.34 L337.21 128.66 L337.79 128.99 L338.37 129.31 L338.95 129.64 L339.53 129.96 L340.11 130.28 L340.70 130.61 L341.28 130.93 L341.86 131.26 L342.44 131.58 L343.02 131.91 L343.60 132.23 L344.19 132.56 L344.77 132.88 L345.35 133.21 L345.94 133.53 L346.52 133.86 L347.11 134.18 L347.69 134.51 L348.28 134.83 L348.86 135.15 L349.45 135.48 L350.03 135.80 L350.62 136.12 L351.21 136.44 L351.80 136.76 L352.38 137.09 L352.97 137.41 L353.56 137.73 L354.15 138.04 L354.74 138.36 L355.33 138.68 L355.92 139.00 L356.51 139.31 L357.10 139.63 L357.69 139.94 L358.29 140.26 L358.88 140.57 L359.47 140.88 L360.07 141.19 L360.66 141.50 L361.25 141.81 L361.85 142.12 L362.45 142.43 L363.04 142.73 L363.64 143.04 L364.24 143.34 L364.84 143.64 L365.43 143.94 L366.03 144.24 L366.63 144.54 L367.23 144.83 L367.83 145.13 L368.44 145.42 L369.04 145.71 L369.64 146.01 L370.25 146.29 L370.85 146.58 L371.46 146.87 L372.06 147.15 L372.67 147.43 L373.27 147.71 L373.88 147.99 L374.49 148.27 L375.10 148.54 L375.71 148.82 L376.32 149.09 L376.93 149.36 L377.54 149.62 L378.16 149.89 L378.77 150.15 L379.38 150.41 L380.00 150.67 L380.61 150.93 L381.23 151.18 L381.85 151.44 L382.47 151.69 L383.08 151.94 L383.70 152.19 L384.32 152.43 L384.94 152.68 L385.56 152.92 L386.19 153.16 L386.81 153.40 L387.43 153.64 L388.05 153.88 L388.68 154.11 L389.30 154.34 L389.93 154.58 L390.55 154.81 L391.18 155.03 L391.81 155.26 L392.43 155.49 L393.06 155.71 L393.69 155.93 L394.32 156.15 L394.95 156.37 L395.58 156.59 L396.21 156.81 L396.84 157.02 L397.47 157.24 L398.10 157.45 L398.74 157.66 L399.37 157.87 L400.00 158.08 L400.64 158.29 L401.27 158.50 L401.91 158.70 L402.54 158.91 L403.18 159.11 L403.81 159.31 L404.45 159.52 L405.09 159.72 L405.72 159.92 L406.36 160.11 L407.00 160.31 L407.64 160.51 L408.28 160.70 L408.91 160.90 L409.55 161.09 L410.19 161.28 L410.83 161.48 L411.47 161.67 L412.11 161.86 L412.75 162.05 L413.40 162.24 L414.04 162.42 L414.68 162.61 L415.32 162.80 L415.96 162.98 L416.61 163.17 L417.25 163.35 L417.89 163.54 L418.53 163.72 L419.18 163.91 L419.82 164.09 L420.47 164.27 L421.11 164.45 L421.75 164.63 L422.40 164.81 L423.04 164.99 L423.69 165.17 L424.33 165.35 L424.98 165.53 L425.62 165.71 L426.27 165.89 L426.91 166.07" stroke="#00ff00" stroke-width="2.45" stroke-dasharray="3.4 3.2 10.1 3.1"/>
<path d="M66.62 214.73 L67.27 214.74 L67.93 214.76 L68.59 214.78 L69.25 214.80 L69.91 214.81 L70.58 214.83 L71.24 214.85 L71.90 214.87 L72.56 214.89 L73.23 214.91 L73.89 214.93 L74.55 214.95 L75.22 214.97 L75.88 215.00 L76.55 215.02 L77.22 215.04 L77.88 215.07 L78.55 215.09 L79.22 215.12 L79.88 215.14 L80.55 215.17 L81.22 215.19 L81.89 215.22 L82.55 215.25 L83.22 215.28 L83.89 215.30 L84.56 215.33 L85.23 215.36 L85.90 215.39 L86.57 215.42 L87.24 215.46 L87.91 215.49 L88.58 215.52 L89.25 215.56 L89.92 215.59 L90.59 215.63 L91.26 215.66 L91.93 215.70 L92.60 215.74 L93.27 215.77 L93.94 215.81 L94.61 215.85 L95.28 215.89 L95.96 215.93 L96.63 215.97 L97.30 216.02 L97.97 216.06 L98.64 216.10 L99.31 216.15 L99.98 216.20 L100.65 216.24 L101.32 216.29 L101.99 216.34 L102.66 216.39 L103.33 216.44 L104.00 216.49 L104.67 216.54 L105.34 216.59 L106.01 216.65 L106.68 216.70 L107.35 216.76 L108.02 216.81 L108.69 216.87 L109.36 216.93 L110.03 216.99 L110.69 217.05 L111.36 217.11 L112.03 217.17 L112.70 217.24 L113.36 217.30 L114.03 217.37 L114.70 217.43 L115.36 217.50 L116.03 217.57 L116.69 217.64 L117.36 217.71 L118.02 217.78 L118.69 217.86 L119.35 217.93 L120.01 218.01 L120.67 218.08 L121.34 218.16 L122.00 218.24 L122.66 218.32 L123.32 218.40 L123.98 218.48 L124.64 218.56 L125.30 218.64 L125.96 218.73 L126.62 218.81 L127.28 218.90 L127.94 218.98 L128.59 219.07 L129.25 219.16 L129.91 219.24 L130.57 219.33 L131.22 219.42 L131.88 219.51 L132.54 219.59 L133.20 219.68 L133.85 219.77 L134.51 219.86 L135.17 219.95 L135.82 220.04 L136.48 220.13 L137.14 220.21 L137.79 220.30 L138.45 220.39 L139.11 220.48 L139.76 220.57 L140.42 220.65 L141.08 220.74 L141.73 220.83 L142.39 220.91 L143.05 221.00 L143.71 221.08 L144.36 221.17 L145.02 221.25 L145.68 221.33 L146.34 221.41 L146.99 221.49 L147.65 221.57 L148.31 221.65 L148.97 221.73 L149.63 221.81 L150.29 221.88 L150.95 221.96 L151.61 222.03 L152.27 222.10 L152.93 222.17 L153.59 222.24 L154.26 222.31 L154.92 222.38 L155.58 222.44 L156.25 222.51 L156.91 222.57 L157.57 222.63 L158.24 222.69 L158.90 222.74 L159.57 222.80 L160.24 222.85 L160.90 222.90 L161.57 222.95 L162.24 223.00 L162.91 223.04 L163.58 223.09 L164.25 223.13 L164.92 223.17 L165.59 223.20 L166.27 223.24 L166.94 223.27 L167.61 223.30 L168.29 223.32 L168.97 223.35 L169.64 223.37 L170.32 223.39 L171.00 223.40 L171.68 223.42 L172.36 223.43 L173.04 223.43 L173.72 223.44 L174.40 223.44 L175.08 223.44 L175.76 223.43 L176.44 223.42 L177.12 223.41 L177.80 223.39 L178.48 223.37 L179.16 223.34 L179.84 223.31 L180.52 223.28 L181.19 223.24 L181.87 223.20 L182.55 223.15 L183.22 223.10 L183.90 223.05 L184.57 222.98 L185.25 222.92 L185.92 222.85 L186.59 222.77 L187.26 222.69 L187.92 222.60 L188.59 222.51 L189.26 222.41 L189.92 222.31 L190.58 222.20 L191.24 222.09 L191.90 221.96 L192.55 221.84 L193.21 221.70 L193.86 221.57 L194.51 221.42 L195.15 221.27 L195.80 221.11 L196.44 220.94 L197.08 220.77 L197.72 220.59 L198.35 220.40 L198.98 220.21 L199.61 220.01 L200.24 219.80 L200.86 219.59 L201.48 219.36 L202.09 219.13 L202.71 218.90 L203.32 218.65 L203.92 218.40 L204.52 218.13 L205.12 217.86 L205.72 217.59 L206.31 217.30 L206.90 217.00 L207.48 216.70 L208.06 216.39 L208.63 216.07 L209.21 215.74 L209.77 215.40 L210.34 215.06 L210.90 214.71 L211.45 214.35 L212.00 213.98 L212.55 213.61 L213.09 213.23 L213.63 212.84 L214.16 212.45 L214.69 212.04 L215.22 211.63 L215.74 211.22 L216.25 210.80 L216.76 210.37 L217.27 209.93 L217.77 209.49 L218.27 209.04 L218.76 208.59 L219.25 208.13 L219.74 207.67 L220.21 207.20 L220.69 206.72 L221.16 206.24 L221.62 205.75 L222.08 205.26 L222.54 204.77 L222.99 204.26 L223.43 203.76 L223.87 203.25 L224.31 202.73 L224.74 202.21 L225.16 201.69 L225.58 201.16 L225.99 200.62 L226.40 200.09 L226.81 199.55 L227.20 199.00 L227.60 198.46 L227.98 197.90 L228.37 197.35 L228.74 196.79 L229.12 196.23 L229.48 195.67 L229.84 195.10 L230.20 194.53 L230.55 193.96 L230.89 193.38 L231.23 192.80 L231.56 192.22 L231.89 191.64 L232.21 191.05 L232.53 190.46 L232.84 189.87 L233.15 189.28 L233.45 188.69 L233.75 188.09 L234.04 187.49 L234.32 186.89 L234.61 186.28 L234.89 185.68 L235.16 185.07 L235.43 184.46 L235.69 183.85 L235.95 183.23 L236.21 182.62 L236.46 182.00 L236.70 181.38 L236.94 180.76 L237.18 180.13 L237.42 179.51 L237.65 178.88 L237.87 178.25 L238.10 177.62 L238.31 176.99 L238.53 176.36 L238.74 175.73 L238.95 175.09 L239.15 174.46 L239.35 173.82 L239.55 173.18 L239.74 172.54 L239.93 171.90 L240.12 171.25 L240.30 170.61 L240.48 169.97 L240.66 169.32 L240.83 168.67 L241.00 168.03 L241.17 167.38 L241.34 166.73 L241.50 166.08 L241.66 165.43 L241.82 164.78 L241.97 164.13 L242.13 163.47 L242.28 162.82 L242.43 162.17 L242.57 161.51 L242.71 160.86 L242.85 160.20 L242.99 159.55 L243.13 158.89 L243.26 158.24 L243.40 157.58 L243.53 156.92 L243.66 156.27 L243.78 155.61 L243.91 154.95 L244.03 154.29 L244.15 153.63 L244.27 152.97 L244.39 152.32 L244.51 151.66 L244.62 151.00 L244.73 150.34 L244.85 149.68 L244.96 149.02 L245.07 148.36 L245.17 147.70 L245.28 147.04 L245.39 146.38 L245.49 145.72 L245.60 145.06 L245.70 144.40 L245.80 143.74 L245.90 143.08 L246.00 142.42 L246.10 141.76 L246.20 141.10 L246.30 140.44 L246.40 139.78 L246.49 139.12 L246.59 138.46 L246.68 137.81 L246.78 137.15 L246.87 136.49 L246.97 135.83 L247.06 135.17 L247.16 134.51 L247.25 133.85 L247.34 133.20 L247.44 132.54 L247.53 131.88 L247.63 131.22 L247.72 130.57 L247.81 129.91 L247.91 129.25 L248.00 128.59 L248.10 127.94 L248.19 127.28 L248.29 126.62 L248.38 125.97 L248.48 125.31 L248.57 124.65 L248.67 124.00 L248.77 123.34 L248.87 122.69 L248.97 122.03 L249.07 121.37 L249.17 120.72 L249.27 120.06 L249.37 119.41 L249.48 118.75 L249.58 118.10 L249.69 117.44 L249.79 116.79 L249.90 116.13 L250.01 115.48 L250.12 114.82 L250.23 114.17 L250.34 113.51 L250.46 112.86 L250.57 112.20 L250.69 111.55 L250.81 110.89 L250.93 110.24 L251.05 109.59 L251.18 108.93 L251.30 108.28 L251.43 107.63 L251.56 106.97 L251.69 106.32 L251.82 105.66 L251.96 105.01 L252.10 104.36 L252.24 103.71 L252.38 103.05 L252.52 102.40 L252.67 101.75 L252.82 101.09 L252.97 100.44 L253.12 99.79 L253.28 99.14 L253.43 98.48 L253.59 97.83 L253.76 97.18 L253.92 96.53 L254.09 95.87 L254.26 95.22 L254.44 94.57 L254.62 93.92 L254.79 93.27 L254.98 92.61 L255.16 91.96 L255.35 91.31 L255.55 90.66 L255.74 90.01 L255.94 89.36 L256.14 88.71 L256.35 88.06 L256.56 87.42 L256.78 86.77 L257.00 86.13 L257.22 85.49 L257.45 84.85 L257.68 84.21 L257.92 83.58 L258.17 82.95 L258.42 82.32 L258.67 81.70 L258.93 81.07 L259.20 80.45 L259.47 79.84 L259.75 79.23 L260.03 78.62 L260.32 78.02 L260.62 77.42 L260.92 76.82 L261.23 76.23 L261.55 75.65 L261.87 75.07 L262.21 74.49 L262.55 73.92 L262.89 73.36 L263.25 72.80 L263.61 72.25 L263.98 71.70 L264.36 71.16 L264.75 70.63 L265.14 70.10 L265.55 69.58 L265.96 69.07 L266.38 68.56 L266.81 68.06 L267.25 67.57 L267.70 67.09 L268.16 66.62 L268.63 66.15 L269.11 65.70 L269.60 65.25 L270.09 64.82 L270.60 64.40 L271.12 64.00 L271.65 63.61 L272.19 63.24 L272.74 62.88 L273.30 62.54 L273.87 62.22 L274.45 61.92 L275.04 61.64 L275.64 61.38 L276.25 61.14 L276.87 60.93 L277.51 60.74 L278.15 60.58 L278.81 60.44 L279.47 60.32 L280.14 60.23 L280.82 60.16 L281.49 60.10 L282.18 60.07 L282.86 60.05 L283.54 60.05 L284.21 60.06 L284.89 60.09 L285.56 60.13 L286.23 60.18 L286.89 60.25 L287.55 60.33 L288.22 60.42 L288.87 60.53 L289.53 60.64 L290.18 60.77 L290.83 60.91 L291.48 61.06 L292.12 61.23 L292.77 61.40 L293.41 61.58 L294.04 61.77 L294.68 61.97 L295.31 62.18 L295.94 62.40 L296.57 62.63 L297.20 62.86 L297.82 63.11 L298.44 63.36 L299.06 63.61 L299.68 63.88 L300.29 64.15 L300.90 64.42 L301.51 64.70 L302.12 64.99 L302.73 65.28 L303.33 65.58 L303.93 65.88 L304.53 66.19 L305.13 66.50 L305.73 66.81 L306.32 67.12 L306.91 67.44 L307.51 67.76 L308.09 68.09 L308.68 68.41 L309.27 68.74 L309.85 69.07 L310.43 69.40 L311.01 69.73 L311.59 70.07 L312.17 70.41 L312.74 70.75 L313.32 71.09 L313.89 71.43 L314.47 71.78 L315.04 72.12 L315.61 72.47 L316.18 72.82 L316.74 73.17 L317.31 73.52 L317.88 73.87 L318.44 74.22 L319.01 74.58 L319.57 74.93 L320.14 75.29 L320.70 75.65 L321.26 76.00 L321.82 76.36 L322.38 76.72 L322.95 77.08 L323.51 77.44 L324.07 77.80 L324.63 78.16 L325.19 78.52 L325.75 78.88 L326.31 79.24 L326.87 79.60 L327.43 79.96 L327.99 80.31 L328.55 80.67 L329.11 81.03 L329.67 81.39 L330.23 81.75 L330.80 82.11 L331.36 82.46 L331.92 82.82 L332.49 83.17 L333.05 83.53 L333.61 83.88 L334.18 84.23 L334.75 84.58 L335.31 84.93 L335.88 85.28 L336.45 85.63 L337.02 85.98 L337.58 86.33 L338.15 86.68 L338.72 87.02 L339.29 87.37 L339.86 87.71 L340.44 88.06 L341.01 88.40 L341.58 88.74 L342.15 89.08 L342.73 89.43 L343.30 89.77 L343.87 90.11 L344.45 90.45 L345.02 90.78 L345.60 91.12 L346.18 91.46 L346.75 91.80 L347.33 92.13 L347.91 92.47 L348.49 92.80 L349.06 93.14 L349.64 93.47 L350.22 93.80 L350.80 94.13 L351.38 94.47 L351.96 94.80 L352.54 95.13 L353.12 95.46 L353.70 95.79 L354.29 96.12 L354.87 96.44 L355.45 96.77 L356.03 97.10 L356.62 97.43 L357.20 97.75 L357.78 98.08 L358.37 98.40 L358.95 98.73 L359.53 99.05 L360.12 99.38 L360.70 99.70 L361.29 100.02 L361.88 100.35 L362.46 100.67 L363.05 100.99 L363.63 101.31 L364.22 101.63 L364.81 101.96 L365.39 102.28 L365.98 102.60 L366.57 102.92 L367.16 103.23 L367.74 103.55 L368.33 103.87 L368.92 104.19 L369.51 104.51 L370.10 104.83 L370.69 105.14 L371.27 105.46 L371.86 105.78 L372.45 106.09 L373.04 106.41 L373.63 106.73 L374.22 107.04 L374.81 107.36 L375.40 107.67 L375.99 107.99 L376.58 108.30 L377.17 108.62 L377.76 108.93 L378.35 109.25 L378.94 109.56 L379.53 109.87 L380.12 110.19 L380.71 110.50 L381.30 110.81 L381.89 111.13 L382.48 111.44 L383.07 111.75 L383.66 112.07 L384.25 112.38 L384.84 112.69 L385.44 113.00 L386.03 113.32 L386.62 113.63 L387.21 113.94 L387.80 114.25 L388.39 114.57 L388.98 114.88 L389.57 115.19 L390.16 115.50 L390.75 115.81 L391.34 116.12 L391.93 116.44 L392.52 116.75 L393.11 117.06 L393.70 117.37 L394.29 117.68 L394.88 117.99 L395.47 118.30 L396.07 118.60 L396.66 118.91 L397.25 119.22 L397.84 119.53 L398.43 119.84 L399.03 120.14 L399.62 120.45 L400.21 120.75 L400.81 121.06 L401.40 121.36 L401.99 121.66 L402.59 121.97 L403.18 122.27 L403.78 122.57 L404.37 122.87 L404.97 123.17 L405.57 123.47 L406.16 123.76 L406.76 124.06 L407.36 124.35 L407.96 124.65 L408.56 124.94 L409.16 125.23 L409.76 125.52 L410.36 125.81 L410.96 126.10 L411.56 126.39 L412.16 126.68 L412.77 126.96 L413.37 127.25 L413.98 127.53 L414.58 127.81 L415.19 128.09 L415.80 128.37 L416.40 128.65 L417.01 128.92 L417.62 129.20 L418.23 129.47 L418.84 129.74 L419.45 130.01 L420.07 130.28 L420.68 130.54 L421.30 130.81 L421.91 131.07 L422.53 131.33 L423.15 131.59 L423.76 131.85 L424.38 132.11 L425.00 132.36 L425.63 132.61 L426.25 132.86 L426.87 133.11" stroke="#000000" stroke-width="2.7" stroke-dasharray="3.3 3.3 3.3 3.3 10 3.3"/>
<path d="M66.56 223.32 L67.24 223.31 L67.92 223.31 L68.60 223.30 L69.28 223.29 L69.95 223.28 L70.63 223.28 L71.31 223.27 L71.98 223.27 L72.66 223.26 L73.33 223.26 L74.01 223.26 L74.68 223.25 L75.35 223.25 L76.03 223.25 L76.70 223.25 L77.37 223.25 L78.04 223.24 L78.71 223.24 L79.38 223.24 L80.05 223.24 L80.72 223.24 L81.39 223.25 L82.06 223.25 L82.73 223.25 L83.40 223.25 L84.07 223.25 L84.73 223.25 L85.40 223.26 L86.07 223.26 L86.73 223.26 L87.40 223.26 L88.07 223.27 L88.73 223.27 L89.40 223.27 L90.06 223.28 L90.73 223.28 L91.39 223.28 L92.06 223.28 L92.72 223.29 L93.39 223.29 L94.05 223.29 L94.71 223.30 L95.38 223.30 L96.04 223.30 L96.70 223.31 L97.37 223.31 L98.03 223.31 L98.69 223.32 L99.36 223.32 L100.02 223.32 L100.68 223.32 L101.35 223.32 L102.01 223.33 L102.67 223.33 L103.33 223.33 L104.00 223.33 L104.66 223.33 L105.32 223.33 L105.99 223.33 L106.65 223.33 L107.31 223.33 L107.98 223.33 L108.64 223.33 L109.30 223.32 L109.97 223.32 L110.63 223.32 L111.29 223.32 L111.96 223.31 L112.62 223.31 L113.28 223.30 L113.95 223.30 L114.61 223.29 L115.28 223.28 L115.94 223.28 L116.61 223.27 L117.27 223.26 L117.94 223.25 L118.60 223.24 L119.27 223.23 L119.94 223.22 L120.60 223.21 L121.27 223.20 L121.94 223.18 L122.61 223.17 L123.27 223.16 L123.94 223.14 L124.61 223.12 L125.28 223.11 L125.95 223.09 L126.62 223.07 L127.29 223.05 L127.96 223.03 L128.63 223.01 L129.30 222.98 L129.97 222.96 L130.65 222.94 L131.32 222.91 L131.99 222.88 L132.66 222.86 L133.34 222.83 L134.01 222.80 L134.68 222.76 L135.36 222.73 L136.03 222.70 L136.71 222.66 L137.38 222.62 L138.05 222.58 L138.73 222.54 L139.40 222.50 L140.08 222.46 L140.75 222.41 L141.42 222.37 L142.10 222.32 L142.77 222.27 L143.44 222.21 L144.12 222.16 L144.79 222.10 L145.46 222.05 L146.14 221.99 L146.81 221.92 L147.48 221.86 L148.15 221.79 L148.82 221.73 L149.49 221.66 L150.16 221.58 L150.83 221.51 L151.50 221.43 L152.17 221.35 L152.84 221.27 L153.51 221.19 L154.18 221.10 L154.84 221.01 L155.51 220.92 L156.17 220.83 L156.84 220.73 L157.50 220.63 L158.17 220.53 L158.83 220.42 L159.49 220.32 L160.15 220.21 L160.81 220.09 L161.47 219.98 L162.13 219.86 L162.79 219.74 L163.45 219.61 L164.10 219.48 L164.76 219.35 L165.41 219.22 L166.06 219.08 L166.71 218.94 L167.36 218.80 L168.01 218.65 L168.66 218.50 L169.31 218.35 L169.96 218.19 L170.60 218.03 L171.24 217.87 L171.89 217.70 L172.53 217.53 L173.17 217.35 L173.81 217.17 L174.44 216.99 L175.08 216.81 L175.71 216.62 L176.35 216.43 L176.98 216.23 L177.61 216.03 L178.24 215.82 L178.86 215.61 L179.49 215.40 L180.11 215.19 L180.73 214.97 L181.35 214.74 L181.97 214.51 L182.59 214.28 L183.21 214.04 L183.82 213.80 L184.43 213.55 L185.04 213.30 L185.65 213.05 L186.26 212.79 L186.86 212.53 L187.46 212.26 L188.06 211.99 L188.66 211.71 L189.26 211.43 L189.85 211.14 L190.45 210.85 L191.04 210.56 L191.63 210.26 L192.21 209.95 L192.80 209.64 L193.38 209.33 L193.96 209.01 L194.54 208.68 L195.11 208.35 L195.69 208.02 L196.26 207.68 L196.83 207.34 L197.39 206.99 L197.96 206.64 L198.52 206.28 L199.08 205.92 L199.64 205.55 L200.19 205.18 L200.74 204.81 L201.29 204.43 L201.84 204.05 L202.38 203.66 L202.92 203.27 L203.46 202.87 L204.00 202.47 L204.53 202.06 L205.06 201.66 L205.59 201.24 L206.11 200.83 L206.64 200.41 L207.16 199.98 L207.67 199.55 L208.19 199.12 L208.70 198.68 L209.20 198.24 L209.71 197.80 L210.21 197.35 L210.71 196.90 L211.20 196.44 L211.69 195.98 L212.18 195.52 L212.67 195.05 L213.15 194.59 L213.63 194.11 L214.11 193.63 L214.58 193.15 L215.05 192.67 L215.52 192.18 L215.98 191.69 L216.44 191.20 L216.89 190.70 L217.35 190.20 L217.79 189.70 L218.24 189.19 L218.68 188.68 L219.12 188.17 L219.55 187.65 L219.98 187.13 L220.41 186.61 L220.84 186.09 L221.26 185.56 L221.67 185.03 L222.08 184.49 L222.49 183.96 L222.90 183.42 L223.30 182.88 L223.69 182.33 L224.09 181.78 L224.48 181.23 L224.86 180.68 L225.24 180.13 L225.62 179.57 L225.99 179.01 L226.36 178.45 L226.72 177.88 L227.09 177.31 L227.44 176.74 L227.79 176.17 L228.14 175.60 L228.48 175.02 L228.82 174.44 L229.16 173.86 L229.49 173.27 L229.82 172.69 L230.14 172.10 L230.45 171.51 L230.77 170.92 L231.08 170.33 L231.38 169.73 L231.68 169.13 L231.98 168.53 L232.27 167.93 L232.56 167.33 L232.85 166.72 L233.13 166.12 L233.41 165.51 L233.68 164.90 L233.95 164.29 L234.22 163.67 L234.48 163.06 L234.74 162.44 L234.99 161.83 L235.24 161.21 L235.49 160.59 L235.74 159.97 L235.98 159.35 L236.22 158.72 L236.45 158.10 L236.68 157.47 L236.91 156.84 L237.13 156.22 L237.36 155.59 L237.57 154.96 L237.79 154.32 L238.00 153.69 L238.21 153.06 L238.42 152.43 L238.62 151.79 L238.82 151.16 L239.02 150.52 L239.21 149.88 L239.41 149.25 L239.60 148.61 L239.78 147.97 L239.97 147.33 L240.15 146.69 L240.33 146.05 L240.50 145.41 L240.68 144.77 L240.85 144.12 L241.02 143.48 L241.18 142.84 L241.35 142.19 L241.51 141.55 L241.67 140.90 L241.83 140.26 L241.98 139.61 L242.14 138.97 L242.29 138.32 L242.44 137.67 L242.59 137.02 L242.73 136.37 L242.87 135.73 L243.02 135.08 L243.16 134.43 L243.29 133.78 L243.43 133.12 L243.56 132.47 L243.70 131.82 L243.83 131.17 L243.96 130.52 L244.09 129.86 L244.21 129.21 L244.34 128.56 L244.46 127.90 L244.58 127.25 L244.71 126.59 L244.83 125.94 L244.94 125.28 L245.06 124.62 L245.18 123.97 L245.29 123.31 L245.41 122.65 L245.52 122.00 L245.63 121.34 L245.74 120.68 L245.85 120.02 L245.96 119.36 L246.07 118.70 L246.18 118.04 L246.28 117.38 L246.39 116.72 L246.49 116.06 L246.60 115.40 L246.70 114.74 L246.81 114.08 L246.91 113.42 L247.01 112.76 L247.11 112.10 L247.21 111.44 L247.32 110.78 L247.42 110.12" stroke="#ff8000" stroke-width="2.75" stroke-dasharray="3.7560 2.2734"/>
<path d="M423.99 97.40 L423.40 97.12 L422.81 96.84 L422.21 96.56 L421.62 96.28 L421.03 95.99 L420.44 95.70 L419.85 95.41 L419.26 95.12 L418.67 94.83 L418.08 94.54 L417.48 94.24 L416.89 93.95 L416.31 93.65 L415.72 93.35 L415.13 93.04 L414.54 92.74 L413.95 92.43 L413.36 92.13 L412.77 91.82 L412.18 91.51 L411.60 91.20 L411.01 90.89 L410.42 90.57 L409.83 90.26 L409.25 89.94 L408.66 89.62 L408.07 89.30 L407.49 88.98 L406.90 88.66 L406.32 88.34 L405.73 88.01 L405.14 87.69 L404.56 87.36 L403.97 87.04 L403.39 86.71 L402.80 86.38 L402.22 86.05 L401.64 85.72 L401.05 85.39 L400.47 85.05 L399.88 84.72 L399.30 84.39 L398.72 84.05 L398.14 83.72 L397.55 83.38 L396.97 83.04 L396.39 82.70 L395.81 82.37 L395.22 82.03 L394.64 81.69 L394.06 81.35 L393.48 81.01 L392.90 80.66 L392.32 80.32 L391.74 79.98 L391.16 79.64 L390.58 79.29 L389.99 78.95 L389.41 78.61 L388.83 78.26 L388.26 77.92 L387.68 77.58 L387.10 77.23 L386.52 76.89 L385.94 76.54 L385.36 76.20 L384.78 75.85 L384.20 75.51 L383.62 75.16 L383.05 74.81 L382.47 74.47 L381.89 74.12 L381.31 73.78 L380.74 73.43 L380.16 73.09 L379.58 72.75 L379.00 72.40 L378.43 72.06 L377.85 71.71 L377.27 71.37 L376.70 71.03 L376.12 70.68 L375.55 70.34 L374.97 70.00 L374.39 69.66 L373.82 69.31 L373.24 68.97 L372.67 68.63 L372.09 68.29 L371.52 67.95 L370.94 67.62 L370.37 67.28 L369.80 66.94 L369.22 66.60 L368.65 66.27 L368.07 65.93 L367.50 65.60 L366.93 65.27 L366.35 64.93 L365.78 64.60 L365.21 64.27 L364.63 63.94 L364.06 63.61 L363.49 63.28 L362.91 62.96 L362.34 62.63 L361.77 62.30 L361.20 61.98 L360.62 61.65 L360.05 61.33 L359.48 61.00 L358.91 60.68 L358.33 60.36 L357.76 60.04 L357.19 59.72 L356.61 59.39 L356.04 59.07 L355.47 58.75 L354.90 58.43 L354.32 58.11 L353.75 57.79 L353.18 57.47 L352.60 57.16 L352.03 56.84 L351.46 56.52 L350.88 56.20 L350.31 55.88 L349.73 55.56 L349.16 55.24 L348.58 54.92 L348.01 54.60 L347.43 54.28 L346.86 53.96 L346.28 53.64 L345.70 53.32 L345.13 53.00 L344.55 52.68 L343.97 52.36 L343.39 52.04 L342.82 51.71 L342.24 51.39 L341.66 51.07 L341.08 50.74 L340.50 50.42 L339.92 50.09 L339.34 49.77 L338.75 49.44 L338.17 49.11 L337.59 48.78 L337.01 48.45 L336.42 48.12 L335.84 47.79 L335.25 47.46 L334.67 47.13 L334.08 46.80 L333.50 46.46 L332.91 46.12 L332.32 45.79 L331.73 45.45 L331.14 45.11 L330.55 44.77 L329.96 44.43 L329.37 44.08 L328.78 43.74 L328.19 43.39 L327.59 43.05 L327.00 42.70 L326.40 42.35 L325.81 42.00 L325.21 41.65 L324.61 41.30 L324.02 40.95 L323.42 40.60 L322.82 40.25 L322.22 39.90 L321.61 39.56 L321.01 39.21 L320.41 38.87 L319.81 38.53 L319.20 38.19 L318.60 37.85 L317.99 37.52 L317.38 37.19 L316.77 36.86 L316.16 36.54 L315.55 36.22 L314.94 35.91 L314.33 35.60 L313.72 35.29 L313.11 35.00 L312.49 34.70 L311.88 34.41 L311.26 34.13 L310.64 33.85 L310.03 33.58 L309.41 33.32 L308.79 33.07 L308.17 32.82 L307.55 32.58 L306.92 32.34 L306.30 32.12 L305.68 31.90 L305.05 31.69 L304.42 31.49 L303.80 31.30 L303.17 31.12 L302.54 30.95 L301.91 30.79 L301.28 30.64 L300.65 30.50 L300.01 30.37 L299.38 30.25 L298.74 30.15 L298.11 30.05 L297.47 29.97 L296.83 29.90 L296.19 29.84 L295.55 29.79 L294.91 29.76 L294.27 29.74 L293.63 29.74 L292.98 29.74 L292.34 29.77 L291.69 29.80 L291.04 29.85 L290.40 29.92 L289.75 29.99 L289.10 30.09 L288.46 30.19 L287.81 30.31 L287.17 30.45 L286.53 30.59 L285.89 30.75 L285.26 30.93 L284.63 31.12 L284.00 31.32 L283.38 31.53 L282.76 31.76 L282.14 32.00 L281.53 32.25 L280.92 32.52 L280.32 32.80 L279.73 33.10 L279.14 33.40 L278.56 33.72 L277.99 34.06 L277.42 34.40 L276.86 34.76 L276.31 35.13 L275.76 35.51 L275.23 35.91 L274.70 36.32 L274.19 36.74 L273.68 37.17 L273.18 37.61 L272.68 38.06 L272.20 38.52 L271.72 38.99 L271.25 39.47 L270.78 39.96 L270.33 40.46 L269.88 40.97 L269.44 41.48 L269.01 42.00 L268.58 42.53 L268.16 43.07 L267.75 43.61 L267.34 44.15 L266.94 44.70 L266.55 45.26 L266.16 45.82 L265.78 46.39 L265.41 46.96 L265.04 47.53 L264.68 48.10 L264.32 48.68 L263.97 49.26 L263.63 49.85 L263.29 50.43 L262.96 51.02 L262.63 51.60 L262.31 52.20 L261.99 52.79 L261.68 53.38 L261.38 53.98 L261.08 54.58 L260.78 55.18 L260.49 55.78 L260.20 56.38 L259.92 56.99 L259.65 57.59 L259.38 58.20 L259.11 58.81 L258.85 59.42 L258.60 60.04 L258.34 60.65 L258.10 61.27 L257.85 61.89 L257.61 62.51 L257.38 63.13 L257.15 63.75 L256.92 64.38 L256.70 65.00 L256.48 65.63 L256.27 66.26 L256.06 66.89 L255.85 67.52 L255.65 68.15 L255.45 68.78 L255.26 69.42 L255.07 70.05 L254.88 70.69 L254.69 71.33 L254.51 71.97 L254.33 72.61 L254.16 73.25 L253.99 73.90 L253.82 74.54 L253.65 75.18 L253.49 75.83 L253.33 76.48 L253.17 77.12 L253.02 77.77 L252.87 78.42 L252.72 79.07 L252.57 79.72 L252.43 80.38 L252.29 81.03 L252.15 81.68 L252.01 82.34 L251.87 82.99 L251.74 83.65 L251.61 84.30 L251.48 84.96 L251.35 85.62 L251.23 86.27 L251.11 86.93 L250.99 87.59 L250.87 88.25 L250.75 88.91 L250.63 89.57 L250.52 90.23 L250.40 90.89 L250.29 91.55 L250.18 92.22 L250.07 92.88 L249.96 93.54 L249.85 94.20 L249.74 94.86 L249.64 95.53 L249.53 96.19 L249.43 96.85 L249.33 97.52 L249.22 98.18 L249.12 98.84 L249.02 99.51 L248.92 100.17 L248.82 100.83 L248.72 101.50 L248.62 102.16 L248.52 102.83 L248.42 103.49 L248.32 104.15 L248.22 104.81 L248.12 105.48 L248.02 106.14 L247.92 106.80 L247.82 107.47 L247.72 108.13 L247.62 108.79 L247.52 109.45 L247.42 110.12" stroke="#ff8000" stroke-width="2.75" stroke-dasharray="3.8 2.3"/>
</g>
<g stroke="#777777" stroke-width="1" fill="none" shape-rendering="crispEdges">
<rect x="60.5" y="0.5" width="373.0" height="230.0"/>
<path d="M157.5 230.5v-4.5M157.5 0.5v4.5M246.5 230.5v-4.5M246.5 0.5v4.5M336.5 230.5v-4.5M336.5 0.5v4.5M425.5 230.5v-4.5M425.5 0.5v4.5M433.5 223.5h-4.5M60.5 223.5h4.5M433.5 194.5h-4.5M433.5 165.5h-4.5M60.5 165.5h4.5M433.5 136.5h-4.5M433.5 107.5h-4.5M60.5 107.5h4.5M433.5 78.5h-4.5M433.5 49.5h-4.5M60.5 49.5h4.5M433.5 20.5h-4.5"/>
<path d="M85.5 230.5v-2.5M85.5 0.5v2.5M103.5 230.5v-2.5M103.5 0.5v2.5M121.5 230.5v-2.5M121.5 0.5v2.5M139.5 230.5v-2.5M139.5 0.5v2.5M175.5 230.5v-2.5M175.5 0.5v2.5M193.5 230.5v-2.5M193.5 0.5v2.5M211.5 230.5v-2.5M211.5 0.5v2.5M228.5 230.5v-2.5M228.5 0.5v2.5M264.5 230.5v-2.5M264.5 0.5v2.5M282.5 230.5v-2.5M282.5 0.5v2.5M300.5 230.5v-2.5M300.5 0.5v2.5M318.5 230.5v-2.5M318.5 0.5v2.5M354.5 230.5v-2.5M354.5 0.5v2.5M372.5 230.5v-2.5M372.5 0.5v2.5M390.5 230.5v-2.5M390.5 0.5v2.5M407.5 230.5v-2.5M407.5 0.5v2.5M433.5 229.5h-2.5M433.5 217.5h-2.5M433.5 211.5h-2.5M433.5 205.5h-2.5M433.5 200.5h-2.5M433.5 188.5h-2.5M433.5 182.5h-2.5M433.5 176.5h-2.5M433.5 171.5h-2.5M433.5 159.5h-2.5M433.5 153.5h-2.5M433.5 147.5h-2.5M433.5 142.5h-2.5M433.5 130.5h-2.5M433.5 124.5h-2.5M433.5 118.5h-2.5M433.5 113.5h-2.5M433.5 101.5h-2.5M433.5 95.5h-2.5M433.5 89.5h-2.5M433.5 84.5h-2.5M433.5 72.5h-2.5M433.5 66.5h-2.5M433.5 60.5h-2.5M433.5 55.5h-2.5M433.5 43.5h-2.5M433.5 37.5h-2.5M433.5 31.5h-2.5M433.5 26.5h-2.5M433.5 14.5h-2.5M433.5 8.5h-2.5M433.5 2.5h-2.5" stroke="#949494"/>
<path d="M67.5 230.0v-4M67.5 1.0v4" stroke="#c4c4c4"/>
</g>
<text class="b" transform="translate(67.8,248.6) scale(0.95,1)" text-anchor="middle">0.0</text>
<text class="b" transform="translate(157.2,248.6) scale(0.95,1)" text-anchor="middle">0.5</text>
<text class="b" transform="translate(246.8,248.6) scale(0.95,1)" text-anchor="middle">1.0</text>
<text class="b" transform="translate(336.2,248.6) scale(0.95,1)" text-anchor="middle">1.5</text>
<text class="b" transform="translate(425.8,248.6) scale(0.95,1)" text-anchor="middle">2.0</text>
<text class="b" transform="translate(57.0,228.5) scale(0.94,1)" text-anchor="end">0</text>
<text class="b" transform="translate(57.0,170.5) scale(0.94,1)" text-anchor="end">0.02</text>
<text class="b" transform="translate(57.0,112.5) scale(0.94,1)" text-anchor="end">0.04</text>
<text class="b" transform="translate(57.0,54.5) scale(0.94,1)" text-anchor="end">0.06</text>
<text class="b" x="246.7" y="276.8" text-anchor="middle">h</text>
<text transform="translate(17.3,124.5) rotate(-90)" style="font-size:18.5px" stroke="#000" stroke-width="0.45">E<tspan dx="-1.2" dy="2.5" style="font-size:13.7px">1</tspan></text>
</svg>
</body></html>
